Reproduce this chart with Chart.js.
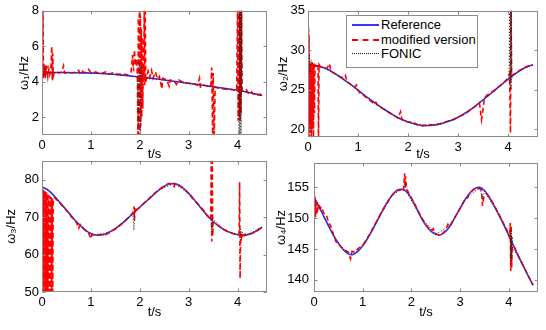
<!DOCTYPE html>
<html>
<head>
<meta charset="utf-8">
<script src="https://cdn.jsdelivr.net/npm/chart.js@4/dist/chart.umd.min.js"></script>
<style>
html,body{margin:0;padding:0;background:#fff;}
body{width:546px;height:330px;position:relative;overflow:hidden;font-family:"Liberation Sans","DejaVu Sans",Arial,sans-serif;}
canvas{position:absolute;}
#legend{position:absolute;left:346px;top:15px;width:130px;height:51px;border:1px solid #8a8a8a;background:#fff;}
.row{position:absolute;left:0;height:14px;width:130px;font-size:13px;line-height:14px;color:#000;}
.smp{position:absolute;left:5px;top:6px;width:27px;height:0;}
.lbl{position:absolute;left:34px;top:0;white-space:nowrap;}
</style>
</head>
<body>
<canvas id="c1" width="273" height="165" style="left:0;top:0"></canvas>
<canvas id="c2" width="273" height="165" style="left:273px;top:0"></canvas>
<canvas id="c3" width="273" height="180" style="left:0;top:150px"></canvas>
<canvas id="c4" width="273" height="180" style="left:273px;top:150px"></canvas>
<div id="legend"></div>
<script>
// ---------- data ----------
const seriesNames = ['Reference', 'modified version', 'FONIC'];
const xTitle = 't/s';
const yTitles = ['ω₁/Hz', 'ω₂/Hz', 'ω₃/Hz', 'ω₄/Hz'];
const xTickVals = [0, 1, 2, 3, 4];
const yTicks1 = [2, 4, 6, 8];
const yTicks2 = [20, 25, 30, 35];
const yTicks3 = [50, 60, 70, 80];
const yTicks4 = [140, 145, 150, 155];

const tRef = [0,0.1,0.2,0.3,0.4,0.5,0.6,0.7,0.8,0.9,1.0,1.1,1.2,1.3,1.4,1.5,1.6,1.7,1.8,1.9,2.0,2.1,2.2,2.3,2.4,2.5,2.6,2.7,2.8,2.9,3.0,3.1,3.2,3.3,3.4,3.5,3.6,3.7,3.8,3.9,4.0,4.1,4.2,4.3,4.4,4.5];

const w1Ref = [4.52,4.52,4.52,4.52,4.52,4.52,4.51,4.51,4.50,4.50,4.49,4.48,4.47,4.45,4.43,4.41,4.39,4.36,4.33,4.30,4.27,4.24,4.21,4.17,4.14,4.10,4.06,4.03,3.99,3.95,3.92,3.88,3.84,3.80,3.76,3.72,3.68,3.64,3.60,3.56,3.52,3.47,3.41,3.35,3.29,3.23];
const w2Ref = [28.1,28.1,28.0,27.8,27.55,27.2,26.8,26.35,25.9,25.45,24.95,24.45,23.95,23.5,23.05,22.6,22.2,21.8,21.45,21.15,20.9,20.7,20.55,20.45,20.45,20.5,20.6,20.75,20.95,21.2,21.5,21.85,22.25,22.7,23.2,23.7,24.2,24.75,25.3,25.8,26.3,26.8,27.25,27.65,27.95,28.15];
const w3Ref = [78.0,77.4,76.3,74.9,73.4,71.8,70.3,68.8,67.5,66.4,65.6,65.2,65.2,65.5,66.1,66.9,67.9,69.0,70.2,71.4,72.6,73.8,75.0,76.2,77.3,78.2,78.8,78.9,78.5,77.6,76.3,74.8,73.2,71.6,70.1,68.8,67.7,66.8,66.1,65.6,65.3,65.2,65.3,65.7,66.4,67.3];
const w4Ref = [153.4,151.9,150.3,148.7,147.2,145.9,144.9,144.2,144.1,144.6,145.5,146.7,148.1,149.6,151.1,152.5,153.7,154.5,154.7,154.3,153.2,151.7,150.1,148.8,147.9,147.4,147.3,147.8,148.8,150.2,151.6,153.0,154.1,154.8,155.0,154.5,153.4,152.0,150.5,148.9,147.2,145.5,143.8,142.2,140.6,139.1];

const w1Mod = [[0.00,8.6],[0.01,4.3],[0.02,8.6],[0.03,4.2],[0.04,5.0],[0.05,4.3],[0.06,4.9],[0.07,4.2],[0.08,5.0],[0.09,4.4],[0.10,4.9],[0.12,4.3],[0.14,4.7],[0.16,4.4],[0.18,4.6],[0.20,6.0],[0.21,4.1],[0.22,5.6],[0.23,4.3],[0.25,4.5],[0.30,4.55],[0.35,4.5],[0.40,4.55],[0.44,4.9],[0.46,4.5],[0.55,4.5],[0.65,4.52],[0.75,4.65],[0.78,4.45],[0.82,4.6],[0.88,4.5],[0.95,4.7],[1.0,4.5],[1.1,4.55],[1.2,4.45],[1.3,4.55],[1.35,4.42],[1.45,4.5],[1.55,4.42],[1.65,4.45],[1.75,4.38],[1.82,4.55],[1.85,5.5],[1.87,4.6],[1.89,5.8],[1.91,4.9],[1.93,5.3],[1.95,4.4],[1.96,0.8],[1.97,7.6],[1.98,0.8],[1.99,8.2],[2.00,1.2],[2.01,7.8],[2.02,1.5],[2.03,7.0],[2.04,2.0],[2.05,6.5],[2.06,2.5],[2.07,5.0],[2.08,4.0],[2.09,8.6],[2.10,3.8],[2.11,8.6],[2.12,4.0],[2.14,4.3],[2.17,4.6],[2.20,4.25],[2.24,4.65],[2.27,4.2],[2.32,4.55],[2.36,4.15],[2.40,4.3],[2.45,3.6],[2.47,4.2],[2.55,4.1],[2.60,3.75],[2.62,4.1],[2.70,4.05],[2.75,3.85],[2.80,4.1],[2.90,3.95],[3.00,3.92],[3.10,3.88],[3.18,3.8],[3.22,4.2],[3.24,3.7],[3.30,3.82],[3.40,3.75],[3.45,3.7],[3.47,4.8],[3.49,0.8],[3.50,4.5],[3.52,0.8],[3.54,3.7],[3.60,3.65],[3.70,3.6],[3.80,3.58],[3.90,3.55],[3.98,3.5],[4.00,8.6],[4.01,1.8],[4.02,8.6],[4.03,2.0],[4.04,8.6],[4.05,1.8],[4.06,8.6],[4.07,2.2],[4.08,8.6],[4.09,3.5],[4.12,3.45],[4.18,3.55],[4.22,3.35],[4.28,3.45],[4.32,3.3],[4.38,3.35],[4.42,3.25],[4.46,3.3],[4.50,3.22]];
const w1Fon = [[0,4.52],[0.03,4.2],[0.06,4.8],[0.1,4.5],[0.3,4.52],[0.6,4.51],[0.9,4.5],[1.2,4.47],[1.5,4.41],[1.8,4.33],[1.95,4.29],[1.97,1.5],[1.99,5.2],[2.01,1.2],[2.03,4.9],[2.05,4.26],[2.3,4.17],[2.6,4.06],[2.9,3.95],[3.2,3.84],[3.5,3.72],[3.8,3.6],[4.02,3.51],[4.03,0.8],[4.04,8.6],[4.05,0.8],[4.06,8.6],[4.07,0.8],[4.08,8.6],[4.09,3.48],[4.3,3.35],[4.5,3.23]];

const w2Mod = [[0.00,24.0],[0.01,33.0],[0.015,19.0],[0.02,32.0],[0.03,18.5],[0.04,28.5],[0.05,19.5],[0.06,28.3],[0.07,18.8],[0.08,28.5],[0.09,20.0],[0.10,28.2],[0.11,19.0],[0.12,28.4],[0.13,22.0],[0.14,28.0],[0.15,28.1],[0.18,28.0],[0.20,28.3],[0.21,18.5],[0.22,28.2],[0.25,27.9],[0.30,27.8],[0.38,27.7],[0.43,28.3],[0.46,27.3],[0.55,27.0],[0.65,26.6],[0.72,26.5],[0.75,26.8],[0.78,26.0],[0.85,25.7],[0.92,25.3],[0.97,25.6],[1.00,24.9],[1.05,24.5],[1.10,24.3],[1.20,23.9],[1.30,23.3],[1.35,23.5],[1.40,22.9],[1.50,22.6],[1.60,22.2],[1.70,21.8],[1.80,21.4],[1.85,22.2],[1.88,21.2],[1.95,21.0],[2.00,20.9],[2.10,20.9],[2.20,20.5],[2.30,20.4],[2.40,20.6],[2.50,20.5],[2.60,20.6],[2.70,20.8],[2.80,21.0],[2.90,21.2],[3.00,21.5],[3.10,21.8],[3.20,22.2],[3.30,22.7],[3.40,23.1],[3.43,23.3],[3.47,21.2],[3.50,22.5],[3.53,24.0],[3.60,24.4],[3.70,24.8],[3.80,25.3],[3.90,25.8],[4.00,26.5],[4.03,27.0],[4.05,19.5],[4.06,35.5],[4.07,26.8],[4.10,26.9],[4.20,27.3],[4.30,27.7],[4.40,28.0],[4.50,28.2]];
const w2Fon = [[0,28.1],[0.02,29.5],[0.04,27.2],[0.06,28.8],[0.1,28.1],[0.3,27.8],[0.6,26.8],[0.9,25.45],[1.2,23.95],[1.5,22.6],[1.8,21.45],[2.1,20.7],[2.4,20.45],[2.7,20.75],[3.0,21.5],[3.3,22.7],[3.6,24.2],[3.9,25.8],[4.02,26.4],[4.03,35.5],[4.04,25.5],[4.05,35.5],[4.06,25.0],[4.07,35.5],[4.08,26.5],[4.1,26.8],[4.3,27.65],[4.5,28.15]];

const w3Mod = [[0.00,78.0],[0.005,49],[0.01,77.5],[0.02,49],[0.03,77.3],[0.04,49],[0.05,77.0],[0.06,49],[0.07,76.8],[0.08,49],[0.09,76.6],[0.10,49],[0.11,76.3],[0.12,49],[0.13,76.0],[0.14,49],[0.15,75.7],[0.16,49],[0.17,75.5],[0.18,49],[0.19,75.3],[0.20,49],[0.21,75.0],[0.22,49],[0.23,74.8],[0.25,75.2],[0.30,74.6],[0.40,73.2],[0.50,71.8],[0.60,70.1],[0.70,68.6],[0.75,67.0],[0.78,68.0],[0.85,66.8],[0.95,65.8],[1.00,64.2],[1.02,65.3],[1.10,65.2],[1.20,65.4],[1.30,65.3],[1.40,66.0],[1.50,66.8],[1.60,67.8],[1.70,69.0],[1.80,70.2],[1.86,71.2],[1.88,72.8],[1.89,69.0],[1.90,72.5],[1.92,71.8],[2.00,72.6],[2.10,73.9],[2.20,75.0],[2.30,76.3],[2.40,77.4],[2.50,78.3],[2.60,79.0],[2.70,78.1],[2.72,78.9],[2.80,78.5],[2.90,77.6],[3.00,76.2],[3.10,74.7],[3.20,73.3],[3.25,72.6],[3.30,71.9],[3.35,70.8],[3.40,70.0],[3.45,69.3],[3.46,86],[3.47,63.5],[3.48,86],[3.49,65],[3.50,68.6],[3.55,68.5],[3.60,67.7],[3.70,66.8],[3.80,66.1],[3.90,65.6],[4.00,65.3],[4.03,65.3],[4.04,79.3],[4.05,53.6],[4.06,66],[4.08,64.5],[4.10,65.8],[4.12,65.0],[4.20,65.3],[4.30,65.7],[4.40,66.4],[4.50,67.3]];
const w3Fon = [[0,78],[0.1,77.4],[0.2,76.3],[0.3,74.9],[0.5,71.8],[0.7,68.8],[0.9,66.4],[1.0,65.4],[1.2,65.2],[1.5,66.9],[1.8,70.2],[1.86,71.0],[1.88,66.5],[1.90,71.8],[2.1,73.8],[2.4,77.3],[2.7,78.9],[3.0,76.3],[3.3,71.6],[3.46,69.5],[3.47,66.0],[3.48,69.8],[3.7,66.8],[4.0,65.3],[4.06,66.8],[4.07,64.6],[4.08,66.0],[4.2,65.3],[4.5,67.3]];

const w4Mod = [[0.00,153.2],[0.01,149.8],[0.02,153.5],[0.03,150.2],[0.04,152.8],[0.05,150.5],[0.06,152.6],[0.08,151.5],[0.10,152.3],[0.13,151.6],[0.16,151.8],[0.20,150.8],[0.25,150.6],[0.30,149.3],[0.35,148.6],[0.40,147.3],[0.45,146.2],[0.50,145.8],[0.60,145.0],[0.70,144.5],[0.75,143.4],[0.78,144.6],[0.85,144.5],[0.90,145.0],[1.00,145.6],[1.10,146.8],[1.20,148.2],[1.30,149.7],[1.40,151.2],[1.50,152.5],[1.60,153.7],[1.70,154.5],[1.80,154.6],[1.84,154.4],[1.86,157.3],[1.87,155.0],[1.88,156.8],[1.90,154.8],[2.00,153.3],[2.10,151.8],[2.20,150.2],[2.30,148.9],[2.40,148.0],[2.45,148.3],[2.47,147.6],[2.55,147.3],[2.60,147.2],[2.70,148.0],[2.75,149.0],[2.78,148.6],[2.90,150.2],[3.00,151.6],[3.10,153.0],[3.15,153.3],[3.20,154.1],[3.30,154.8],[3.40,154.8],[3.44,154.6],[3.46,152.0],[3.48,153.2],[3.52,153.6],[3.55,153.9],[3.60,153.5],[3.70,152.1],[3.80,150.6],[3.90,149.0],[3.95,148.3],[4.00,147.2],[4.02,146.8],[4.03,149.2],[4.04,141.4],[4.05,148.8],[4.06,142.0],[4.07,145.3],[4.10,145.5],[4.20,143.8],[4.30,142.2],[4.40,140.6],[4.50,139.1]];
const w4Fon = [[0,153.4],[0.2,150.4],[0.4,147.2],[0.6,144.9],[0.8,144.1],[1.0,145.5],[1.3,149.6],[1.6,153.7],[1.8,154.7],[1.87,155.5],[1.9,154.3],[2.2,150.1],[2.5,147.4],[2.8,148.8],[3.1,153.0],[3.4,155.0],[3.47,153.0],[3.5,154.4],[3.8,150.5],[4.0,147.2],[4.03,148.0],[4.04,143.0],[4.05,148.0],[4.06,143.5],[4.07,147.0],[4.08,145.0],[4.2,143.8],[4.5,139.1]];

// ---------- styling / helpers ----------
const FONT = '"Liberation Sans","DejaVu Sans",Arial,sans-serif';
const COLORS = ['#3535ff', '#ff0000', '#1a1a1a'];

function pairPts(a) { return a.map(p => ({ x: p[0], y: p[1] })); }
function refPts(v) { return tRef.map((t, i) => ({ x: t, y: v[i] })); }

const boxPlugin = {
  id: 'mbox',
  afterDraw(chart) {
    const { ctx, chartArea: a, scales: { x, y } } = chart;
    ctx.save();
    ctx.strokeStyle = '#8a8a8a';
    ctx.lineWidth = 1;
    const L = Math.round(a.left) + 0.5, R = Math.round(a.right) - 0.5;
    const T = Math.round(a.top) + 0.5, B = Math.round(a.bottom) - 0.5;
    ctx.strokeRect(L, T, R - L, B - T);
    ctx.beginPath();
    x.ticks.forEach(t => {
      const p = Math.round(x.getPixelForValue(t.value)) + 0.5;
      ctx.moveTo(p, B); ctx.lineTo(p, B - 3);
      ctx.moveTo(p, T); ctx.lineTo(p, T + 3);
    });
    y.ticks.forEach(t => {
      const p = Math.round(y.getPixelForValue(t.value)) + 0.5;
      ctx.moveTo(L, p); ctx.lineTo(L + 3, p);
      ctx.moveTo(R, p); ctx.lineTo(R - 3, p);
    });
    ctx.stroke();
    ctx.restore();
  }
};

function makePanel(id, g, ref, mod, fon, yMin, yMax, yTickVals, yTitle, yPad, yTitlePad, xTitlePad) {
  new Chart(document.getElementById(id), {
    type: 'line',
    data: {
      datasets: [
        { label: seriesNames[0], data: refPts(ref), borderColor: COLORS[0], borderWidth: 1.6, pointRadius: 0, tension: 0.3, order: 3, clip: 0 },
        { label: seriesNames[1], data: pairPts(mod), borderColor: COLORS[1], borderWidth: 1.6, borderDash: [5, 3], pointRadius: 0, tension: 0, order: 2, clip: 0 },
        { label: seriesNames[2], data: pairPts(fon), borderColor: COLORS[2], borderWidth: 1, borderDash: [1, 2], pointRadius: 0, tension: 0, order: 1, clip: 0 }
      ]
    },
    options: {
      responsive: false, animation: false, devicePixelRatio: 1, events: [],
      layout: { padding: { left: 0, right: g.w - g.right, top: g.top, bottom: 0 } },
      plugins: { legend: { display: false }, tooltip: { enabled: false } },
      scales: {
        x: {
          type: 'linear', min: 0, max: 4.6,
          afterFit(s) { s.height = g.h - g.bottom; },
          afterBuildTicks(s) { s.ticks = xTickVals.map(v => ({ value: v })); },
          grid: { display: false, drawTicks: false }, border: { display: false },
          ticks: { color: '#000', font: { family: FONT, size: 13 }, padding: 3, maxRotation: 0, autoSkip: false },
          title: { display: true, text: xTitle, color: '#000', font: { family: FONT, size: 13 }, padding: { top: 0, bottom: xTitlePad } }
        },
        y: {
          type: 'linear', min: yMin, max: yMax,
          afterFit(s) { s.width = g.left; },
          afterBuildTicks(s) { s.ticks = yTickVals.map(v => ({ value: v })); },
          grid: { display: false, drawTicks: false }, border: { display: false },
          ticks: { color: '#000', font: { family: FONT, size: 13 }, padding: yPad, autoSkip: false },
          title: { display: true, text: yTitle, color: '#000', font: { family: FONT, size: 13 }, padding: { top: yTitlePad, bottom: 0 } }
        }
      }
    },
    plugins: [boxPlugin]
  });
}

makePanel('c1', { w: 273, h: 165, left: 42, right: 267, top: 8, bottom: 135 }, w1Ref, w1Mod, w1Fon, 1, 8, yTicks1, yTitles[0], 3, 17, 3);
makePanel('c2', { w: 273, h: 165, left: 35, right: 265, top: 7, bottom: 137 }, w2Ref, w2Mod, w2Fon, 19, 35, yTicks2, yTitles[1], 3, 3, 3);
makePanel('c3', { w: 273, h: 180, left: 42, right: 267, top: 10, bottom: 142 }, w3Ref, w3Mod, w3Fon, 50, 85, yTicks3, yTitles[2], 3, 4, 10);
makePanel('c4', { w: 273, h: 180, left: 41, right: 265, top: 12, bottom: 142 }, w4Ref, w4Mod, w4Fon, 138, 159, yTicks4, yTitles[3], 5, 1, 10);

// ---------- legend (panel 2) ----------
const legendStyles = [
  'border-top:2px solid ' + COLORS[0],
  'border-top:2px dashed ' + COLORS[1],
  'border-top:1px dotted ' + COLORS[2]
];
const rowTops = [2, 17, 31];
const lg = document.getElementById('legend');
seriesNames.forEach((name, i) => {
  const r = document.createElement('div');
  r.className = 'row';
  r.style.top = rowTops[i] + 'px';
  const s = document.createElement('span');
  s.className = 'smp';
  s.setAttribute('style', legendStyles[i]);
  const l = document.createElement('span');
  l.className = 'lbl';
  l.textContent = name;
  r.appendChild(s); r.appendChild(l);
  lg.appendChild(r);
});
</script>
</body>
</html>
